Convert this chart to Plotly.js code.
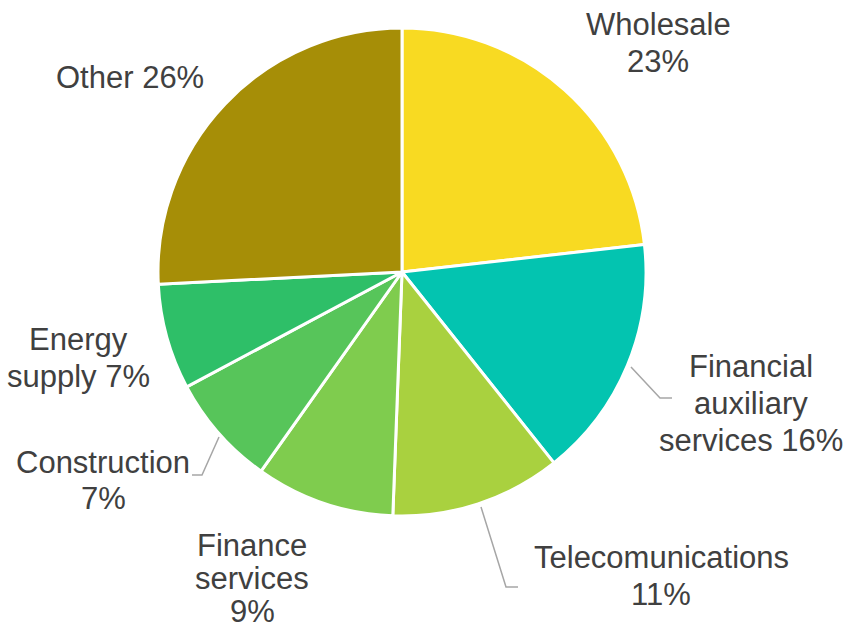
<!DOCTYPE html>
<html>
<head>
<meta charset="utf-8">
<script src="https://cdn.plot.ly/plotly-3.0.1.min.js"></script>
<style>html,body{margin:0;padding:0;background:#fff;}#chart{width:850px;height:625px;}</style>
</head>
<body>
<div id="chart"></div>
<script>
// Data
var categories = ["Wholesale", "Financial auxiliary services", "Telecomunications", "Finance services", "Construction", "Energy supply", "Other"];
var values = [23.2, 16.1, 11.3, 9.2, 7.4, 7.0, 25.8];
var colors = ["#F8DA22", "#03C4B0", "#A9D13F", "#7FCC4E", "#57C55A", "#2EBF68", "#A68E07"];
// label line breaks (display text only)
var labelLines = [
  ["Wholesale"],
  ["Financial", "auxiliary", "services"],
  ["Telecomunications"],
  ["Finance", "services"],
  ["Construction"],
  ["Energy", "supply"],
  ["Other"]
];
// whether percent goes on its own line
var pctOwnLine = [true, false, true, true, true, false, false];

// Label placement (pixel coords of first line center and line step, layout only)
var labelPos = [
  [658, 24, 37], [751, 366, 37], [661, 557, 37], [252, 545, 33], [103, 462, 36], [78, 339, 37], [130, 77, 37]
];
var leaderPaths = [
  null,
  "M631,367 L660,398 L672,398",
  "M481,507 L506,587 L518,587",
  null,
  "M219,437 L202,475 L192,475",
  null, null
];

var total = values.reduce(function(a,b){return a+b;}, 0);
var annotations = [];
categories.forEach(function(c, i){
  var pct = Math.round(values[i] / total * 100) + "%";
  var lines = labelLines[i].slice();
  if (pctOwnLine[i]) { lines.push(pct); } else { lines[lines.length-1] += " " + pct; }
  lines.forEach(function(t, k){
    annotations.push({
      x: labelPos[i][0], y: labelPos[i][1] + k * labelPos[i][2], xref: "x", yref: "y",
      text: t, showarrow: false, align: "center",
      xanchor: "center", yanchor: "middle",
      font: {family: "Liberation Sans, Arial, sans-serif", size: 31, color: "#404040"}
    });
  });
});
var shapes = [];
leaderPaths.forEach(function(p){
  if (p) shapes.push({type: "path", path: p, xref: "x", yref: "y", line: {color: "#A6A6A6", width: 1.5}});
});

var W = 850, H = 625;
var cx = 402, cy = 272, r = 244;

var trace = {
  type: "pie",
  labels: categories,
  values: values,
  sort: false,
  direction: "clockwise",
  rotation: 0,
  textinfo: "none",
  marker: {colors: colors, line: {color: "#FFFFFF", width: 3}},
  domain: {x: [(cx - r) / W, (cx + r) / W], y: [(H - cy - r) / H, (H - cy + r) / H]},
  showlegend: false
};

var layout = {
  width: W, height: H,
  margin: {l: 0, r: 0, t: 0, b: 0},
  paper_bgcolor: "#FFFFFF", plot_bgcolor: "rgba(0,0,0,0)",
  showlegend: false,
  xaxis: {range: [0, W], visible: false, fixedrange: true},
  yaxis: {range: [H, 0], visible: false, fixedrange: true},
  annotations: annotations,
  shapes: shapes
};

Plotly.newPlot("chart", [trace], layout, {displayModeBar: false, staticPlot: true});
</script>
</body>
</html>
